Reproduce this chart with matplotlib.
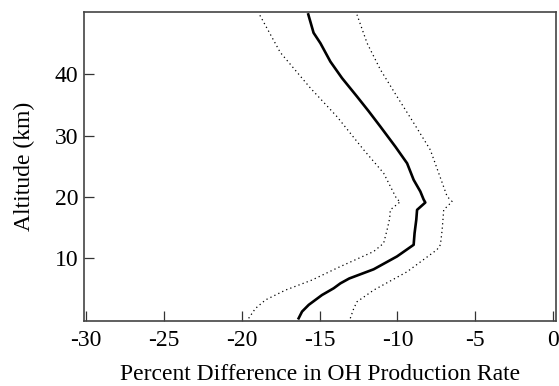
import numpy as np
import matplotlib
matplotlib.use("Agg")
import matplotlib.pyplot as plt

# Values
# altitude (km) and percent difference for the mean profile
alt_mean = [0.2, 1.3, 2.4, 4.0, 5.1, 5.9, 6.7, 8.2, 10.3, 12.2, 14.1, 16.3,
            17.9, 19.1, 19.6, 20.9, 22.8, 25.5, 28.2, 31.5, 34.0, 36.4,
            39.4, 42.1, 45.1, 46.8, 49.8]
pct_mean = [-16.35, -16.13, -15.7, -14.85, -14.1, -13.67, -13.1, -11.53,
            -10.03, -8.96, -8.9, -8.79, -8.74, -8.21, -8.32, -8.53, -8.96,
            -9.38, -10.13, -11.1, -11.85, -12.6, -13.56, -14.31, -14.95,
            -15.39, -15.73]

# lower bound (dotted, left)
alt_low = [0.2, 1.8, 3.2, 4.8, 6.45, 8.5, 11.1, 12.45, 14.6, 16.5, 17.9,
           19.25, 19.6, 23.9, 27.7, 33.1, 37.8, 43.6, 49.75]
pct_low = [-19.56, -19.13, -18.48, -17.2, -15.49, -13.8, -11.53, -10.89,
           -10.67, -10.5, -10.46, -9.81, -10.03, -10.89, -12.17, -13.88,
           -15.6, -17.53, -18.86]

# upper bound (dotted, right)
alt_high = [0.2, 1.8, 2.9, 4.8, 7.8, 11.4, 12.2, 14.6, 16.5, 17.9, 19.25,
            20.1, 27.7, 32.1, 36.4, 40.8, 45.1, 49.75]
pct_high = [-13.03, -12.81, -12.6, -11.53, -9.38, -7.46, -7.24, -7.13,
            -7.07, -7.03, -6.49, -6.81, -7.89, -8.96, -10.03, -11.1, -11.95,
            -12.6]

x_ticks = [-30, -25, -20, -15, -10, -5, 0]
y_ticks = [10, 20, 30, 40]

plt.rcParams['font.family'] = ['Liberation Serif', 'DejaVu Serif']
plt.rcParams['axes.unicode_minus'] = False

fig = plt.figure(figsize=(5.59, 3.86), dpi=100)
ax = fig.add_axes([0.150, 0.169, 0.845, 0.800])

ax.plot(pct_low, alt_low, color='black', lw=0.9, ls=(0, (1, 2.5)))
ax.plot(pct_high, alt_high, color='black', lw=0.9, ls=(0, (1, 2.5)))
ax.plot(pct_mean, alt_mean, color='black', lw=1.9)

ax.set_xlim(-30.15, 0.2)
ax.set_ylim(-0.2, 50.2)
ax.set_xticks(x_ticks)
ax.set_yticks(y_ticks)
ax.tick_params(axis='both', direction='in', length=7, width=0.9,
               labelsize=17, color='#333333')
ax.tick_params(axis='x', pad=7)
ax.tick_params(axis='y', pad=4)

for sp in ax.spines.values():
    sp.set_linewidth(1.2)
    sp.set_color('#444444')

ax.set_xlabel('Percent Difference in OH Production Rate', fontsize=17,
              labelpad=9)
ax.set_ylabel('Altitude (km)', fontsize=17, labelpad=14)

fig.savefig('out.png', dpi=100)
